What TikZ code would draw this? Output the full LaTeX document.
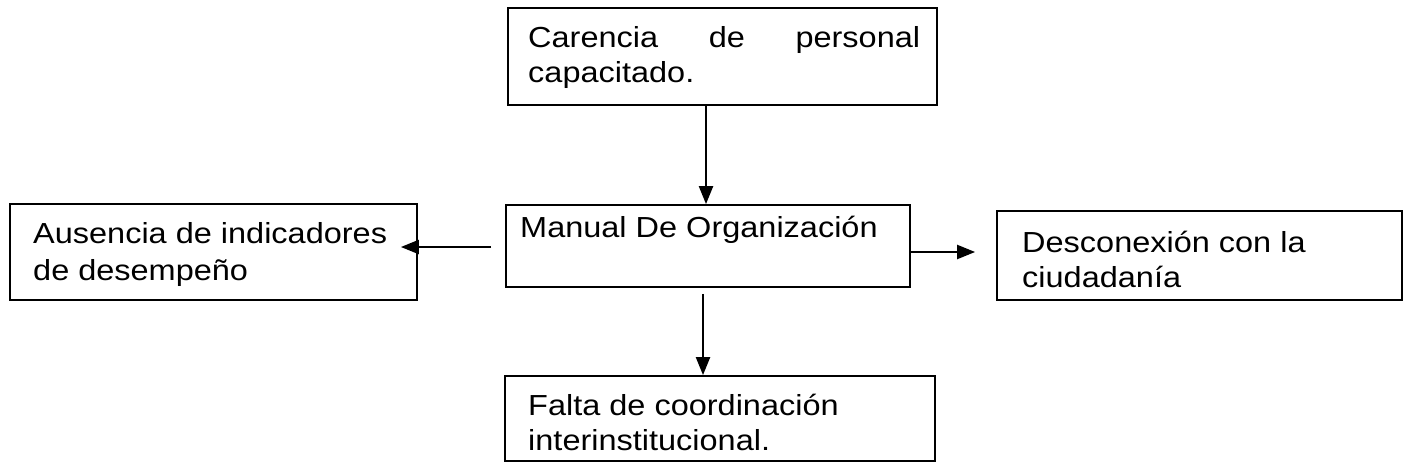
\documentclass[tikz,border=0pt]{standalone}
\usepackage{fontspec}
\setmainfont[FakeStretch=1.12]{Liberation Sans}
\usetikzlibrary{arrows.meta}
\begin{document}
\begin{tikzpicture}[x=1pt,y=-1pt,
  box/.style={draw=black, line width=1.8pt, rectangle, inner sep=0pt, fill=none},
  txt/.style={anchor=base west, inner sep=0pt, font=\fontsize{29}{35}\selectfont},
  arr/.style={draw=black, line width=2.2pt, -{Triangle[length=18pt,width=14pt]}}]
\fill[white] (0,0) rectangle (1410,474);
\useasboundingbox (0,0) rectangle (1410,474);
% boxes
\node[box, minimum width=429pt, minimum height=97pt] (top) at (722.5,56.5) {};
\node[box, minimum width=404pt, minimum height=82pt] (mid) at (708,246) {};
\node[box, minimum width=407pt, minimum height=96pt] (left) at (213.5,252) {};
\node[box, minimum width=405pt, minimum height=89pt] (right) at (1199.5,255.5) {};
\node[box, minimum width=430pt, minimum height=85pt] (bot) at (720,418.5) {};
% texts
\node[txt] (t1a) at (528,47) {\makebox[392pt][s]{Carencia\hfill de\hfill personal}};
\node[txt] (t1b) at (528,82) {capacitado.};
\node[txt] (t2) at (520,237) {Manual De Organización};
\node[txt] (t3a) at (33,243) {Ausencia de indicadores};
\node[txt] (t3b) at (33,280) {de desempeño};
\node[txt] (t4a) at (1022,252) {Desconexión con la};
\node[txt] (t4b) at (1022,287) {ciudadanía};
\node[txt] (t5a) at (528,415) {Falta de coordinación};
\node[txt] (t5b) at (528,450) {interinstitucional.};
% helper coordinates
\coordinate (xa) at (706,0);
\coordinate (xb) at (703,0);
\coordinate (yl) at (0,247);
\coordinate (yr) at (0,252);
% connectors
\draw[arr] (top.south -| xa) -- (mid.north -| xa);
\draw[arr, shorten <=6pt] (mid.south -| xb) -- (bot.north -| xb);
\draw[arr, shorten <=14pt, shorten >=-17pt] (mid.west |- yl) -- (left.east |- yl);
\draw[arr, shorten >=21pt] (mid.east |- yr) -- (right.west |- yr);
\end{tikzpicture}
\end{document}
